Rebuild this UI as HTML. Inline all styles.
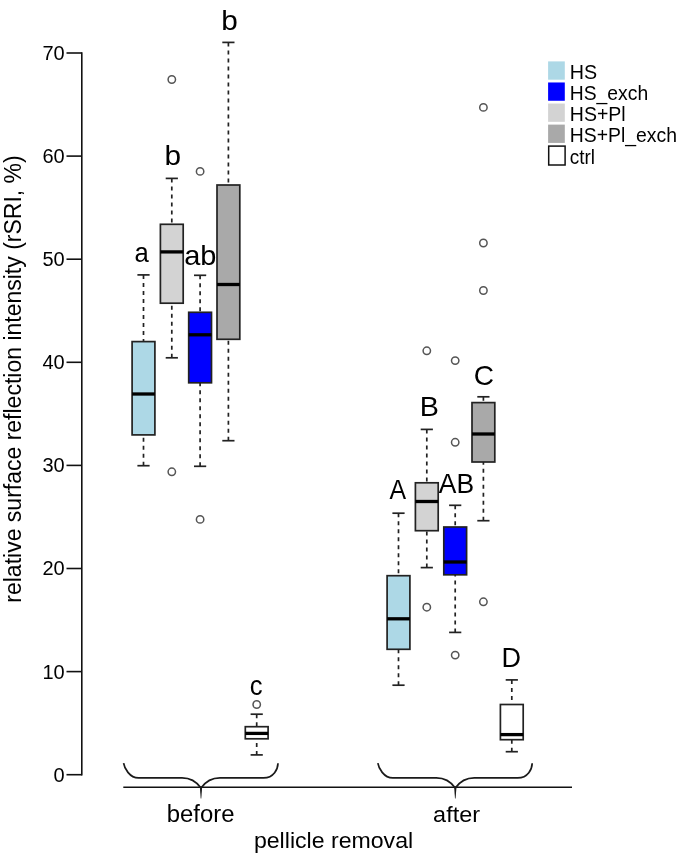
<!DOCTYPE html>
<html><head><meta charset="utf-8"><style>
html,body{margin:0;padding:0;background:#fff;}
svg{display:block;will-change:transform;}
text{font-family:"Liberation Sans",sans-serif;fill:#000;}
</style></head><body>
<svg width="685" height="863" viewBox="0 0 685 863">
<rect x="0" y="0" width="685" height="863" fill="#fff"/>

<g stroke="#111" stroke-width="1.6" fill="none">
<line x1="81.8" y1="53" x2="81.8" y2="774.7" stroke-linecap="square"/>
<line x1="66.5" y1="774.70" x2="81.8" y2="774.70"/>
<line x1="66.5" y1="671.60" x2="81.8" y2="671.60"/>
<line x1="66.5" y1="568.50" x2="81.8" y2="568.50"/>
<line x1="66.5" y1="465.40" x2="81.8" y2="465.40"/>
<line x1="66.5" y1="362.30" x2="81.8" y2="362.30"/>
<line x1="66.5" y1="259.20" x2="81.8" y2="259.20"/>
<line x1="66.5" y1="156.10" x2="81.8" y2="156.10"/>
<line x1="66.5" y1="53.00" x2="81.8" y2="53.00"/>
</g>
<g font-size="20" text-anchor="end">
<text x="64.7" y="781.60">0</text>
<text x="64.7" y="678.50">10</text>
<text x="64.7" y="575.40">20</text>
<text x="64.7" y="472.30">30</text>
<text x="64.7" y="369.20">40</text>
<text x="64.7" y="266.10">50</text>
<text x="64.7" y="163.00">60</text>
<text x="64.7" y="59.90">70</text>
</g>
<text transform="translate(20.8,379) rotate(-90)" font-size="23" text-anchor="middle">relative surface reflection intensity (rSRI, %)</text>
<line x1="143.5" y1="274.9" x2="143.5" y2="341.6" stroke="#222" stroke-width="1.7" stroke-dasharray="4 4"/>
<line x1="143.5" y1="465.7" x2="143.5" y2="434.9" stroke="#222" stroke-width="1.7" stroke-dasharray="4 4"/>
<line x1="137.40" y1="274.9" x2="149.60" y2="274.9" stroke="#222" stroke-width="1.7"/>
<line x1="137.40" y1="465.7" x2="149.60" y2="465.7" stroke="#222" stroke-width="1.7"/>
<rect x="132.10" y="341.6" width="22.80" height="93.30" fill="#ADD8E6" stroke="#222" stroke-width="1.7"/>
<line x1="132.10" y1="394.0" x2="154.90" y2="394.0" stroke="#000" stroke-width="3.3"/>
<line x1="171.8" y1="178.4" x2="171.8" y2="224.3" stroke="#222" stroke-width="1.7" stroke-dasharray="4 4"/>
<line x1="171.8" y1="357.8" x2="171.8" y2="303.2" stroke="#222" stroke-width="1.7" stroke-dasharray="4 4"/>
<line x1="165.70" y1="178.4" x2="177.90" y2="178.4" stroke="#222" stroke-width="1.7"/>
<line x1="165.70" y1="357.8" x2="177.90" y2="357.8" stroke="#222" stroke-width="1.7"/>
<rect x="160.40" y="224.3" width="22.80" height="78.90" fill="#D3D3D3" stroke="#222" stroke-width="1.7"/>
<line x1="160.40" y1="251.9" x2="183.20" y2="251.9" stroke="#000" stroke-width="3.3"/>
<circle cx="171.8" cy="79.5" r="3.7" fill="none" stroke="#555" stroke-width="1.5"/>
<circle cx="171.8" cy="471.8" r="3.7" fill="none" stroke="#555" stroke-width="1.5"/>
<line x1="200.1" y1="275.3" x2="200.1" y2="312.3" stroke="#222" stroke-width="1.7" stroke-dasharray="4 4"/>
<line x1="200.1" y1="466.3" x2="200.1" y2="382.8" stroke="#222" stroke-width="1.7" stroke-dasharray="4 4"/>
<line x1="194.00" y1="275.3" x2="206.20" y2="275.3" stroke="#222" stroke-width="1.7"/>
<line x1="194.00" y1="466.3" x2="206.20" y2="466.3" stroke="#222" stroke-width="1.7"/>
<rect x="188.70" y="312.3" width="22.80" height="70.50" fill="#0000FF" stroke="#222" stroke-width="1.7"/>
<line x1="188.70" y1="334.8" x2="211.50" y2="334.8" stroke="#000" stroke-width="3.3"/>
<circle cx="200.1" cy="171.4" r="3.7" fill="none" stroke="#555" stroke-width="1.5"/>
<circle cx="200.1" cy="519.4" r="3.7" fill="none" stroke="#555" stroke-width="1.5"/>
<line x1="228.4" y1="42.4" x2="228.4" y2="185.0" stroke="#222" stroke-width="1.7" stroke-dasharray="4 4"/>
<line x1="228.4" y1="440.7" x2="228.4" y2="339.3" stroke="#222" stroke-width="1.7" stroke-dasharray="4 4"/>
<line x1="222.30" y1="42.4" x2="234.50" y2="42.4" stroke="#222" stroke-width="1.7"/>
<line x1="222.30" y1="440.7" x2="234.50" y2="440.7" stroke="#222" stroke-width="1.7"/>
<rect x="217.00" y="185.0" width="22.80" height="154.30" fill="#A9A9A9" stroke="#222" stroke-width="1.7"/>
<line x1="217.00" y1="284.5" x2="239.80" y2="284.5" stroke="#000" stroke-width="3.3"/>
<line x1="256.7" y1="714.2" x2="256.7" y2="726.7" stroke="#222" stroke-width="1.7" stroke-dasharray="4 4"/>
<line x1="256.7" y1="754.9" x2="256.7" y2="738.8" stroke="#222" stroke-width="1.7" stroke-dasharray="4 4"/>
<line x1="250.60" y1="714.2" x2="262.80" y2="714.2" stroke="#222" stroke-width="1.7"/>
<line x1="250.60" y1="754.9" x2="262.80" y2="754.9" stroke="#222" stroke-width="1.7"/>
<rect x="245.30" y="726.7" width="22.80" height="12.10" fill="#FFFFFF" stroke="#222" stroke-width="1.7"/>
<line x1="245.30" y1="733.4" x2="268.10" y2="733.4" stroke="#000" stroke-width="3.3"/>
<circle cx="256.7" cy="704.5" r="3.7" fill="none" stroke="#555" stroke-width="1.5"/>
<line x1="398.5" y1="513.2" x2="398.5" y2="575.7" stroke="#222" stroke-width="1.7" stroke-dasharray="4 4"/>
<line x1="398.5" y1="685.2" x2="398.5" y2="649.3" stroke="#222" stroke-width="1.7" stroke-dasharray="4 4"/>
<line x1="392.40" y1="513.2" x2="404.60" y2="513.2" stroke="#222" stroke-width="1.7"/>
<line x1="392.40" y1="685.2" x2="404.60" y2="685.2" stroke="#222" stroke-width="1.7"/>
<rect x="387.10" y="575.7" width="22.80" height="73.60" fill="#ADD8E6" stroke="#222" stroke-width="1.7"/>
<line x1="387.10" y1="618.8" x2="409.90" y2="618.8" stroke="#000" stroke-width="3.3"/>
<line x1="426.8" y1="429.4" x2="426.8" y2="482.8" stroke="#222" stroke-width="1.7" stroke-dasharray="4 4"/>
<line x1="426.8" y1="567.6" x2="426.8" y2="530.7" stroke="#222" stroke-width="1.7" stroke-dasharray="4 4"/>
<line x1="420.70" y1="429.4" x2="432.90" y2="429.4" stroke="#222" stroke-width="1.7"/>
<line x1="420.70" y1="567.6" x2="432.90" y2="567.6" stroke="#222" stroke-width="1.7"/>
<rect x="415.40" y="482.8" width="22.80" height="47.90" fill="#D3D3D3" stroke="#222" stroke-width="1.7"/>
<line x1="415.40" y1="501.5" x2="438.20" y2="501.5" stroke="#000" stroke-width="3.3"/>
<circle cx="426.8" cy="350.8" r="3.7" fill="none" stroke="#555" stroke-width="1.5"/>
<circle cx="426.8" cy="607.2" r="3.7" fill="none" stroke="#555" stroke-width="1.5"/>
<line x1="455.2" y1="505.3" x2="455.2" y2="527.0" stroke="#222" stroke-width="1.7" stroke-dasharray="4 4"/>
<line x1="455.2" y1="632.4" x2="455.2" y2="574.8" stroke="#222" stroke-width="1.7" stroke-dasharray="4 4"/>
<line x1="449.10" y1="505.3" x2="461.30" y2="505.3" stroke="#222" stroke-width="1.7"/>
<line x1="449.10" y1="632.4" x2="461.30" y2="632.4" stroke="#222" stroke-width="1.7"/>
<rect x="443.80" y="527.0" width="22.80" height="47.80" fill="#0000FF" stroke="#222" stroke-width="1.7"/>
<line x1="443.80" y1="562.0" x2="466.60" y2="562.0" stroke="#000" stroke-width="3.3"/>
<circle cx="455.2" cy="360.6" r="3.7" fill="none" stroke="#555" stroke-width="1.5"/>
<circle cx="455.2" cy="442.3" r="3.7" fill="none" stroke="#555" stroke-width="1.5"/>
<circle cx="455.2" cy="655.1" r="3.7" fill="none" stroke="#555" stroke-width="1.5"/>
<line x1="483.4" y1="396.8" x2="483.4" y2="402.6" stroke="#222" stroke-width="1.7" stroke-dasharray="4 4"/>
<line x1="483.4" y1="520.7" x2="483.4" y2="462.0" stroke="#222" stroke-width="1.7" stroke-dasharray="4 4"/>
<line x1="477.30" y1="396.8" x2="489.50" y2="396.8" stroke="#222" stroke-width="1.7"/>
<line x1="477.30" y1="520.7" x2="489.50" y2="520.7" stroke="#222" stroke-width="1.7"/>
<rect x="472.00" y="402.6" width="22.80" height="59.40" fill="#A9A9A9" stroke="#222" stroke-width="1.7"/>
<line x1="472.00" y1="434.0" x2="494.80" y2="434.0" stroke="#000" stroke-width="3.3"/>
<circle cx="483.4" cy="107.4" r="3.7" fill="none" stroke="#555" stroke-width="1.5"/>
<circle cx="483.4" cy="243.0" r="3.7" fill="none" stroke="#555" stroke-width="1.5"/>
<circle cx="483.4" cy="290.5" r="3.7" fill="none" stroke="#555" stroke-width="1.5"/>
<circle cx="483.4" cy="601.8" r="3.7" fill="none" stroke="#555" stroke-width="1.5"/>
<line x1="511.8" y1="679.9" x2="511.8" y2="704.5" stroke="#222" stroke-width="1.7" stroke-dasharray="4 4"/>
<line x1="511.8" y1="751.7" x2="511.8" y2="739.7" stroke="#222" stroke-width="1.7" stroke-dasharray="4 4"/>
<line x1="505.70" y1="679.9" x2="517.90" y2="679.9" stroke="#222" stroke-width="1.7"/>
<line x1="505.70" y1="751.7" x2="517.90" y2="751.7" stroke="#222" stroke-width="1.7"/>
<rect x="500.40" y="704.5" width="22.80" height="35.20" fill="#FFFFFF" stroke="#222" stroke-width="1.7"/>
<line x1="500.40" y1="734.6" x2="523.20" y2="734.6" stroke="#000" stroke-width="3.3"/>
<text transform="translate(134.62,262.11) scale(0.941,1)" font-size="27.30">a</text>
<text transform="translate(164.39,164.95) scale(1.091,1)" font-size="27.30">b</text>
<text transform="translate(184.18,265.10) scale(1.062,1)" font-size="27.30">ab</text>
<text transform="translate(221.19,30.30) scale(1.091,1)" font-size="27.30">b</text>
<text transform="translate(249.72,694.66) scale(0.941,1)" font-size="27.30">c</text>
<text transform="translate(389.55,499.14) scale(0.913,1)" font-size="27.30">A</text>
<text transform="translate(419.84,415.64) scale(1.053,1)" font-size="27.30">B</text>
<text transform="translate(438.75,493.29) scale(0.970,1)" font-size="27.30">AB</text>
<text transform="translate(473.80,384.59) scale(1.028,1)" font-size="27.30">C</text>
<text transform="translate(501.48,667.49) scale(0.990,1)" font-size="27.30">D</text>
<line x1="123.3" y1="787.3" x2="572" y2="787.3" stroke="#111" stroke-width="1.6"/>
<path d="M123.6,763.2 C124.3,768 129.5,777.9 138.5,777.9 L182.0,777.9 C189.0,777.9 196.0,781 201.0,788 M278.0,763.2 C277.8,769 274.0,777.9 263.5,777.9 L220.0,777.9 C213.0,777.9 206.0,781 201.0,788" fill="none" stroke="#1a1a1a" stroke-width="1.7"/><path d="M199.8,786.5 L202.2,786.5 L201.3,798.4 L200.7,798.4 Z" fill="#1a1a1a"/>
<path d="M377.85,763.2 C378.55,768 383.75,777.9 392.75,777.9 L436.3,777.9 C443.3,777.9 450.3,781 455.3,788 M532.2,763.2 C532.0,769 528.2,777.9 517.7,777.9 L474.3,777.9 C467.3,777.9 460.3,781 455.3,788" fill="none" stroke="#1a1a1a" stroke-width="1.7"/><path d="M454.1,786.5 L456.5,786.5 L455.6,798.4 L455.0,798.4 Z" fill="#1a1a1a"/>
<text transform="translate(166.77,821.86) scale(1.038,1)" font-size="23.00">before</text>
<text transform="translate(433.12,821.79) scale(1.028,1)" font-size="22.80">after</text>
<text transform="translate(253.92,847.75) scale(1.012,1)" font-size="22.85">pellicle removal</text>
<rect x="548.1" y="61.40" width="16.7" height="18.3" fill="#ADD8E6"/>
<text transform="translate(569.8,79.05) scale(1.0,1)" font-size="19.7">HS</text>
<rect x="548.1" y="82.47" width="16.7" height="18.3" fill="#0000FF"/>
<text transform="translate(569.8,99.8) scale(0.98,1)" font-size="19.7">HS_exch</text>
<rect x="548.1" y="103.54" width="16.7" height="18.3" fill="#D3D3D3"/>
<text transform="translate(569.8,120.8) scale(0.99,1)" font-size="19.7">HS+Pl</text>
<rect x="548.1" y="124.61" width="16.7" height="18.3" fill="#A9A9A9"/>
<text transform="translate(569.8,141.75) scale(0.984,1)" font-size="19.7">HS+Pl_exch</text>
<rect x="548.7" y="146.1" width="16.4" height="18.9" fill="#fff" stroke="#111" stroke-width="1.5"/>
<text transform="translate(569.8,164.3) scale(0.96,1)" font-size="19.7">ctrl</text>
</svg>
</body></html>
